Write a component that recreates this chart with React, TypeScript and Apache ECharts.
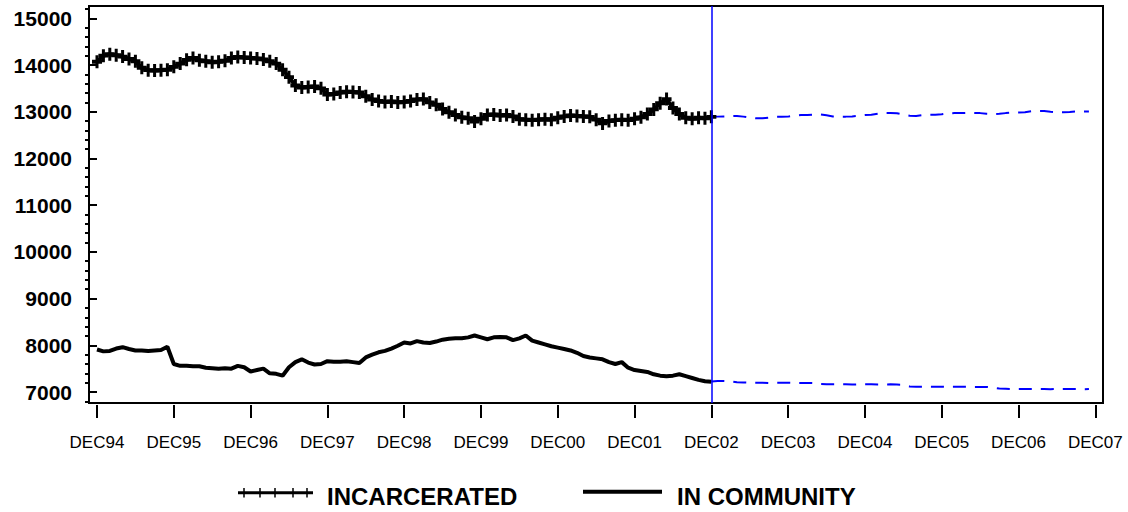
import React, { useEffect, useRef } from "react";
import * as echarts from "echarts";

// Month index 0 = DEC94
const xTickMonths = [0, 12, 24, 36, 48, 60, 72, 84, 96, 108, 120, 132, 144, 156];
const xTickLabels = ["DEC94", "DEC95", "DEC96", "DEC97", "DEC98", "DEC99", "DEC00", "DEC01", "DEC02", "DEC03", "DEC04", "DEC05", "DEC06", "DEC07"];
const yTickValues = [7000, 8000, 9000, 10000, 11000, 12000, 13000, 14000, 15000];
const yMinorTickValues = [
  6800, 7200, 7400, 7600, 7800, 8200, 8400, 8600, 8800, 9200, 9400, 9600, 9800,
  10200, 10400, 10600, 10800, 11200, 11400, 11600, 11800, 12200, 12400, 12600, 12800,
  13200, 13400, 13600, 13800, 14200, 14400, 14600, 14800, 15200,
];

const actualStartMonth = 0;
const forecastStartMonth = 96;
const forecastLineMonth = 96;

const incarcerated = [
  14070, 14200, 14230, 14210, 14180, 14130, 14080, 13940, 13890, 13880, 13890, 13900,
  13960, 14030, 14110, 14150, 14100, 14080, 14060, 14070, 14090, 14150, 14170, 14160,
  14150, 14140, 14120, 14080, 14030, 13900, 13740, 13560, 13520, 13530, 13540, 13500,
  13370, 13380, 13410, 13430, 13420, 13410, 13330, 13260, 13230, 13210, 13220, 13200,
  13210, 13230, 13260, 13270, 13200, 13150, 13060, 12990, 12930, 12880, 12860, 12790,
  12850, 12930, 12940, 12920, 12930, 12900, 12840, 12830, 12820, 12830, 12840, 12830,
  12870, 12900, 12920, 12910, 12900, 12890, 12830, 12750, 12800, 12820, 12830, 12820,
  12850, 12880, 12950, 13050, 13180, 13270, 13080, 12950, 12870, 12850, 12870, 12860,
  12890,
];

const inCommunity = [
  7910, 7870, 7880, 7930, 7960, 7920, 7890, 7890, 7880, 7890, 7900, 7970,
  7600, 7560, 7560, 7550, 7550, 7520, 7510, 7500, 7510, 7500, 7560, 7530,
  7440, 7470, 7500, 7400, 7390, 7350, 7530, 7640, 7700, 7630, 7590, 7600,
  7660, 7650, 7650, 7660, 7640, 7620, 7740, 7800, 7850, 7880, 7930, 7990,
  8060, 8040, 8090, 8060, 8050, 8080, 8120, 8140, 8150, 8150, 8170, 8210,
  8170, 8130, 8170, 8180, 8170, 8110, 8150, 8210, 8100, 8060, 8020, 7980,
  7950, 7920, 7890, 7840, 7770, 7740, 7720, 7700, 7640, 7600, 7640, 7520,
  7470, 7450, 7430, 7380, 7350, 7340, 7350, 7380, 7340, 7300, 7260, 7230,
  7220,
];

const incarceratedForecast = [
  12890, 12895, 12900, 12905, 12910, 12895, 12875, 12860, 12860, 12875, 12890, 12890,
  12895, 12915, 12930, 12930, 12940, 12945, 12925, 12900, 12895, 12895, 12900, 12915,
  12930, 12935, 12955, 12970, 12970, 12965, 12940, 12915, 12910, 12925, 12935, 12935,
  12945, 12965, 12970, 12970, 12975, 12975, 12970, 12955, 12950, 12955, 12970, 12980,
  12985, 12990, 13010, 13015, 13015, 13000, 12990, 12990, 12995, 13005, 13005, 13005,
];

const communityForecast = [
  7225, 7235, 7235, 7230, 7210, 7205, 7200, 7200, 7200, 7195, 7200, 7200,
  7200, 7195, 7195, 7195, 7190, 7170, 7165, 7165, 7165, 7165, 7160, 7165,
  7165, 7165, 7160, 7160, 7165, 7160, 7155, 7120, 7115, 7115, 7115, 7115,
  7115, 7110, 7115, 7115, 7115, 7110, 7110, 7110, 7095, 7075, 7070, 7065,
  7065, 7065, 7065, 7065, 7065, 7060, 7065, 7065, 7065, 7065, 7060, 7065,
];

const legendLabels = ["INCARCERATED", "IN COMMUNITY"];

const FONT = '"Liberation Sans", Arial, Helvetica, sans-serif';
const BLUE = "#0000ff";
const PLUS = "path://M3.5,0H6.5V3.5H10V6.5H6.5V10H3.5V6.5H0V3.5H3.5Z";

const toPairs = (start: number, values: number[]) => values.map((v, i) => [start + i, v]);

export default function App() {
  const ref = useRef<HTMLDivElement>(null);

  useEffect(() => {
    if (!ref.current) return;
    const chart = echarts.init(ref.current, null, { renderer: "svg" });

    const legendTicks = [244, 260, 275, 293, 307].map((x) => ({
      type: "line",
      shape: { x1: x, y1: 488, x2: x, y2: 497.5 },
      style: { stroke: "#000", lineWidth: 1.5 },
    }));

    chart.setOption({
      animation: false,
      backgroundColor: "#ffffff",
      grid: {
        left: 89,
        top: 6,
        width: 1014,
        height: 397,
        show: true,
        borderColor: "#000",
        borderWidth: 2,
        backgroundColor: "transparent",
        outerBoundsMode: "none",
        containLabel: false,
      },
      xAxis: {
        type: "value",
        min: -1.25,
        max: 157.2,
        offset: 2,
        axisLine: { show: false },
        splitLine: { show: false },
        axisTick: {
          show: true,
          customValues: xTickMonths,
          length: 13,
          lineStyle: { color: "#000", width: 2 },
        },
        axisLabel: {
          customValues: xTickMonths,
          margin: 29,
          color: "#000",
          fontFamily: FONT,
          fontSize: 17,
          formatter: (v: number) => xTickLabels[xTickMonths.indexOf(v)] ?? "",
        },
      },
      yAxis: [
        {
          type: "value",
          min: 6765,
          max: 15263,
          position: "left",
          axisLine: { show: false },
          splitLine: { show: false },
          axisTick: {
            show: true,
            customValues: yTickValues,
            length: 7,
            lineStyle: { color: "#000", width: 2 },
          },
          axisLabel: {
            customValues: yTickValues,
            margin: 17,
            color: "#000",
            fontFamily: FONT,
            fontWeight: "bold",
            fontSize: 21,
            formatter: (v: number) => String(v),
          },
        },
        {
          type: "value",
          min: 6765,
          max: 15263,
          position: "left",
          axisLine: { show: false },
          splitLine: { show: false },
          axisLabel: { show: false },
          axisTick: {
            show: true,
            customValues: yMinorTickValues,
            length: 4,
            lineStyle: { color: "#000", width: 2 },
          },
        },
      ],
      series: [
        {
          name: legendLabels[0],
          type: "line",
          data: toPairs(actualStartMonth, incarcerated),
          symbol: PLUS,
          symbolSize: [10, 13],
          showSymbol: true,
          showAllSymbol: true,
          itemStyle: { color: "#000" },
          lineStyle: { color: "#000", width: 4 },
          markLine: {
            silent: true,
            symbol: "none",
            label: { show: false },
            lineStyle: { color: BLUE, width: 1.5, type: "solid" },
            data: [{ xAxis: forecastLineMonth }],
          },
          z: 3,
        },
        {
          name: legendLabels[1],
          type: "line",
          data: toPairs(actualStartMonth, inCommunity),
          showSymbol: false,
          lineStyle: { color: "#000", width: 4 },
          z: 3,
        },
        {
          name: "incarcerated forecast",
          type: "line",
          data: toPairs(forecastStartMonth, incarceratedForecast),
          showSymbol: false,
          lineStyle: { color: BLUE, width: 2, type: [13, 9] },
          z: 2,
        },
        {
          name: "community forecast",
          type: "line",
          data: toPairs(forecastStartMonth, communityForecast),
          showSymbol: false,
          lineStyle: { color: BLUE, width: 2, type: [13, 9] },
          z: 2,
        },
      ],
      graphic: [
        {
          type: "line",
          shape: { x1: 238, y1: 492.7, x2: 313, y2: 492.7 },
          style: { stroke: "#000", lineWidth: 3 },
        },
        ...legendTicks,
        {
          type: "text",
          x: 327,
          y: 496,
          style: {
            text: legendLabels[0],
            fill: "#000",
            font: `bold 24px ${FONT}`,
            verticalAlign: "middle",
          },
        },
        {
          type: "line",
          shape: { x1: 583, y1: 491.7, x2: 662, y2: 491.7 },
          style: { stroke: "#000", lineWidth: 4 },
        },
        {
          type: "text",
          x: 677,
          y: 496,
          style: {
            text: legendLabels[1],
            fill: "#000",
            font: `bold 24px ${FONT}`,
            verticalAlign: "middle",
          },
        },
      ],
    });

    return () => chart.dispose();
  }, []);

  return (
    <div
      ref={ref}
      style={{ position: "fixed", left: 0, top: 0, width: 1128, height: 512, background: "#fff" }}
    />
  );
}
